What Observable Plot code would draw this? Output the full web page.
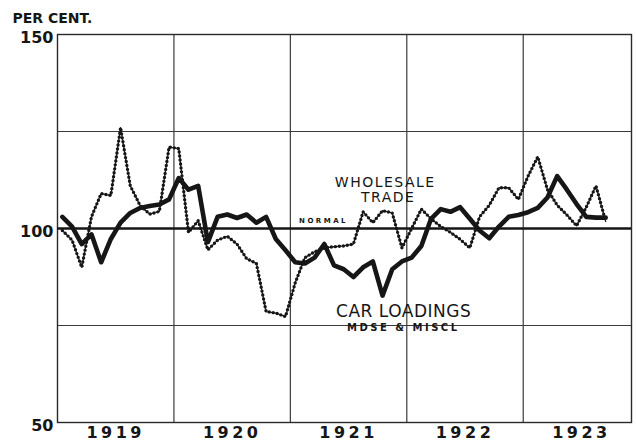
<!DOCTYPE html>
<html>
<head>
<meta charset="utf-8">
<script src="https://cdn.jsdelivr.net/npm/d3@7"></script>
<script src="https://cdn.jsdelivr.net/npm/@observablehq/plot@0.6"></script>
<style>
  body { margin: 0; background: #fff; }
  #chart svg { display: block; }
  .xax text { letter-spacing: 3.5px; }
</style>
</head>
<body>
<div id="chart"></div>
<script>
// Monthly series, starting January 1919 (index 0) through September 1923
const startYear = 1919;
const carLoadings = [
  103, 100.5, 96, 98.5, 91.3, 97.3, 101.5, 104, 105.3, 105.8, 106.2, 107.5,
  113, 110, 111, 96.5, 103, 103.6, 102.7, 103.6, 101.5, 103, 97.3, 94.4,
  91.3, 91, 92.5, 96, 90.5, 89.5, 87.5, 90, 91.5, 82.7, 89.5, 91.5,
  92.5, 95.5, 102.5, 105, 104.3, 105.5, 102.5, 99.5, 97.5, 100.5, 103, 103.5,
  104.2, 105.3, 108, 113.5, 110, 106.3, 103, 102.8, 102.8
];
const wholesaleTrade = [
  99.5, 97, 90, 103, 109, 108.5, 126, 111, 106, 103.7, 104.4, 121,
  120.6, 99, 102, 94.5, 97, 98, 96, 92.2, 91, 78.6, 78.2, 77.3,
  86, 92.5, 94, 95, 95.3, 95.5, 96, 104.3, 101.5, 104.6, 104, 95,
  100, 105, 102.5, 100.5, 99, 97.2, 95, 103, 106, 110.5, 110.5, 107.5,
  113.5, 118.5, 110, 106, 103.5, 100.7, 105.5, 111, 101.8
];
const yearLabels = ["1919", "1920", "1921", "1922", "1923"];
const yTickValues = [50, 100, 150];
const yGridValues = [75, 125];
const normalValue = [100];
const yearGrid = [1920, 1921, 1922, 1923];

// annotation labels (data coordinates: year, per cent)
const labels = [
  {text: "WHOLESALE", x: 1921.815, y: 111.9, size: 14, spacing: 1.5, weight: 500},
  {text: "TRADE", x: 1921.84, y: 108.0, size: 14, spacing: 1.5, weight: 500},
  {text: "NORMAL", x: 1921.285, y: 101.9, size: 7, spacing: 2.5, weight: 700},
  {text: "CAR LOADINGS", x: 1921.973, y: 78.5, size: 17, spacing: 0.5, weight: 500},
  {text: "MDSE & MISCL", x: 1921.97, y: 74.3, size: 10, spacing: 2.5, weight: 700}
];

const month = (i) => startYear + (i + 0.5) / 12;
const carData = carLoadings.map((v, i) => ({t: month(i), v}));
const wsData = wholesaleTrade.map((v, i) => ({t: month(i), v}));
const yearTicks = yearLabels.map(y => +y + 0.5);

const ink = "#161616";

const chart = Plot.plot({
  width: 636,
  height: 442,
  marginTop: 34,
  marginBottom: 20,
  marginLeft: 57,
  marginRight: 5,
  style: {fontFamily: "'DejaVu Sans', sans-serif", background: "#fff", color: ink},
  x: {domain: [1919, 1923.93], axis: null},
  y: {domain: [50, 150], axis: null},
  marks: [
    Plot.ruleX(yearGrid, {stroke: "#3a3a3a", strokeWidth: 1.2}),
    Plot.ruleY(yGridValues, {stroke: "#3a3a3a", strokeWidth: 1.2}),
    Plot.frame({stroke: "#2a2a2a", strokeWidth: 1.4}),
    Plot.ruleY(normalValue, {stroke: ink, strokeWidth: 2.6}),
    Plot.line(wsData, {x: "t", y: "v", stroke: "#222", strokeWidth: 1.3}),
    Plot.line(wsData, {x: "t", y: "v", stroke: ink, strokeWidth: 3.4, strokeDasharray: "0 4", strokeLinecap: "round"}),
    Plot.line(carData, {x: "t", y: "v", stroke: ink, strokeWidth: 4.6, strokeLinejoin: "round", strokeLinecap: "round"}),
    Plot.axisY({ticks: yTickValues, tickSize: 0, tickPadding: 4, dy: 3, fontSize: 16, fontWeight: "bold", tickFormat: d => String(d)}),
    Plot.axisX({ticks: yearTicks, tickSize: 0, tickPadding: 4, fontSize: 16, fontWeight: "bold", tickFormat: d => String(Math.floor(d)), className: "xax"}),
    Plot.text(["PER CENT."], {frameAnchor: "top-left", dx: -45, dy: -16, textAnchor: "start", lineAnchor: "middle", fontSize: 14, fontWeight: "bold", fill: ink}),
    ...labels.map(l => Plot.text([l], {
      x: "x", y: "y", text: "text", fontSize: l.size, fontWeight: l.weight,
      fill: ink, textAnchor: "middle", lineAnchor: "middle"
    }))
  ]
});

document.getElementById("chart").appendChild(chart);

// letter spacing for the hand-lettered look
const svg = d3.select(chart);
svg.selectAll("g[aria-label='text'] text").each(function() {
  const t = this.textContent;
  const l = labels.find(d => d.text === t);
  if (l) d3.select(this).style("letter-spacing", l.spacing + "px");
});
</script>
</body>
</html>
